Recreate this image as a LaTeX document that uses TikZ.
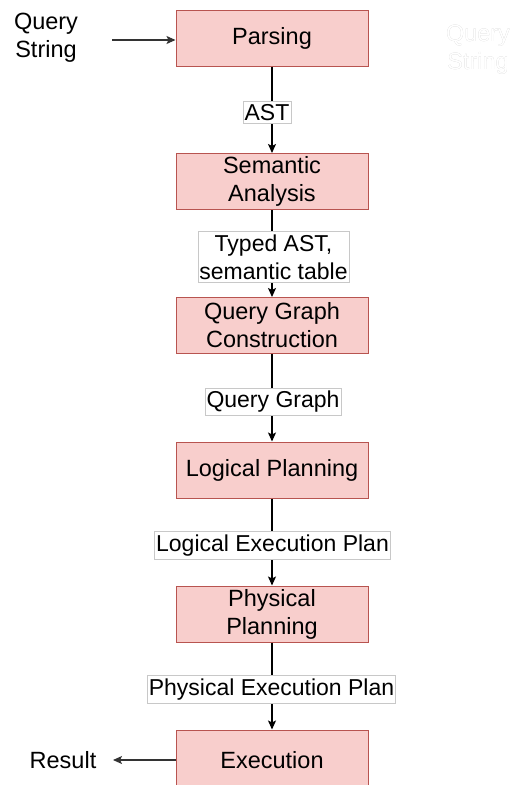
\documentclass[tikz,border=0pt]{standalone}
\usepackage{fontspec}
\setmainfont{Liberation Sans}
\usepackage[outline]{contour}
\contourlength{0.6pt}
\usetikzlibrary{arrows.meta}
\definecolor{boxfill}{HTML}{F8CECC}
\definecolor{boxdraw}{HTML}{B85450}
\definecolor{lbldraw}{HTML}{C8C8C8}
\begin{document}
\begin{tikzpicture}[x=1pt,y=-1pt,
  every node/.style={font=\fontsize{23.5}{28}\selectfont, align=center},
  stage/.style={draw=boxdraw, fill=boxfill, line width=1pt, minimum width=192pt, minimum height=56pt, inner sep=0pt},
  lbl/.style={draw=lbldraw, fill=white, line width=0.6pt, inner xsep=1.5pt, inner ysep=3pt, font=\fontsize{23}{28}\selectfont},
  conn/.style={line width=1.2pt, -{Stealth[length=9pt,width=8pt,inset=2pt]}},
  plain/.style={text=black, inner sep=0pt}]
\useasboundingbox (0,0) rectangle (510,785);
\node[stage] (parse) at (272,38) {Parsing};
\node[stage] (sem) at (272,181.5) {Semantic\\Analysis};
\node[stage] (qg) at (272,325.5) {Query Graph\\Construction};
\node[stage] (lp) at (272,470) {Logical Planning};
\node[stage] (pp) at (272,614) {Physical\\Planning};
\node[stage, minimum height=60pt] (ex) at (272,760) {};
\node at (272,760) (extext) {Execution};
\draw[conn] (parse.south) -- (sem.north);
\draw[conn] (sem.south) -- (qg.north);
\draw[conn] (qg.south) -- (lp.north);
\draw[conn] (lp.south) -- (pp.north);
\draw[conn] (pp.south) -- (ex.north);
\node[lbl] (l1) at (267,112.5) {AST};
\node[lbl] (l2) at (273.5,257) {Typed AST,\\semantic table};
\node[lbl] (l3) at (273,402) {Query Graph};
\node[lbl] (l4) at (272.5,545.5) {Logical Execution Plan};
\node[lbl] (l5) at (271.5,689.5) {Physical Execution Plan};
\node[plain] (qs) at (46,38) {Query\\String};
\node[plain] (res) at (63,760) {Result};
\coordinate (qsend) at (112,40);
\coordinate (resend) at (113,760);
\draw[conn, draw=black!80] (qsend) -- (parse.west |- qsend);
\draw[conn, draw=black!80] (ex.west |- resend) -- (resend);
\node[plain] (ghost) at (478,50) {\contour{black!25}{\textcolor{white}{Query}}\\\contour{black!25}{\textcolor{white}{String}}};
\end{tikzpicture}
\end{document}
